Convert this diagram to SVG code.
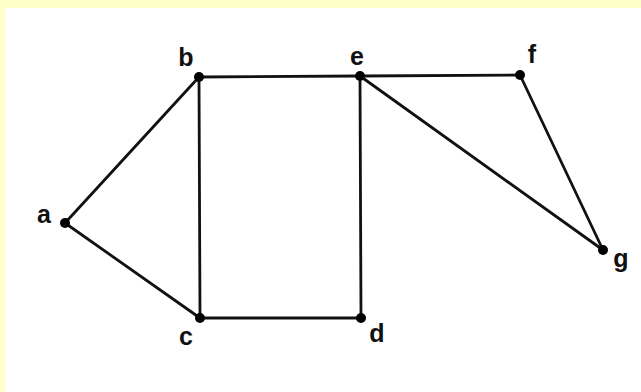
<svg xmlns="http://www.w3.org/2000/svg" width="641" height="392" viewBox="0 0 641 392">
<style>
.edge{stroke:#111;stroke-width:2.8;fill:none;stroke-linecap:round}
.dot{fill:#000}
.lbl{font-family:"Liberation Sans",Arial,sans-serif;font-size:25px;font-weight:bold;fill:#111;text-anchor:middle}
</style>
<rect x="0" y="0" width="641" height="392" fill="#ffffff"/>
<rect x="0" y="0" width="641" height="8" fill="#ffffc8"/>
<rect x="0" y="0" width="5" height="392" fill="#ffffc8"/>
<g id="connectors">
<line class="edge" x1="65" y1="223" x2="199" y2="77"/>
<line class="edge" x1="65" y1="223" x2="200" y2="318"/>
<line class="edge" x1="199" y1="77" x2="200" y2="318"/>
<line class="edge" x1="199" y1="77" x2="360" y2="76"/>
<line class="edge" x1="200" y1="318" x2="361" y2="318"/>
<line class="edge" x1="360" y1="76" x2="361" y2="318"/>
<line class="edge" x1="360" y1="76" x2="520" y2="75"/>
<line class="edge" x1="360" y1="76" x2="603" y2="250"/>
<line class="edge" x1="520" y1="75" x2="603" y2="250"/>
</g>
<g id="node-a"><circle class="dot" cx="65" cy="223" r="5"/><text class="lbl" x="44" y="223">a</text></g>
<g id="node-b"><circle class="dot" cx="199" cy="77" r="5"/><text class="lbl" x="186" y="66">b</text></g>
<g id="node-c"><circle class="dot" cx="200" cy="318" r="5"/><text class="lbl" x="186" y="345">c</text></g>
<g id="node-d"><circle class="dot" cx="361" cy="318" r="5"/><text class="lbl" x="377" y="342">d</text></g>
<g id="node-e"><circle class="dot" cx="360" cy="76" r="5"/><text class="lbl" x="357" y="65">e</text></g>
<g id="node-f"><circle class="dot" cx="520" cy="75" r="5"/><text class="lbl" x="532" y="63">f</text></g>
<g id="node-g"><circle class="dot" cx="603" cy="250" r="5"/><text class="lbl" x="621" y="267">g</text></g>
</svg>
